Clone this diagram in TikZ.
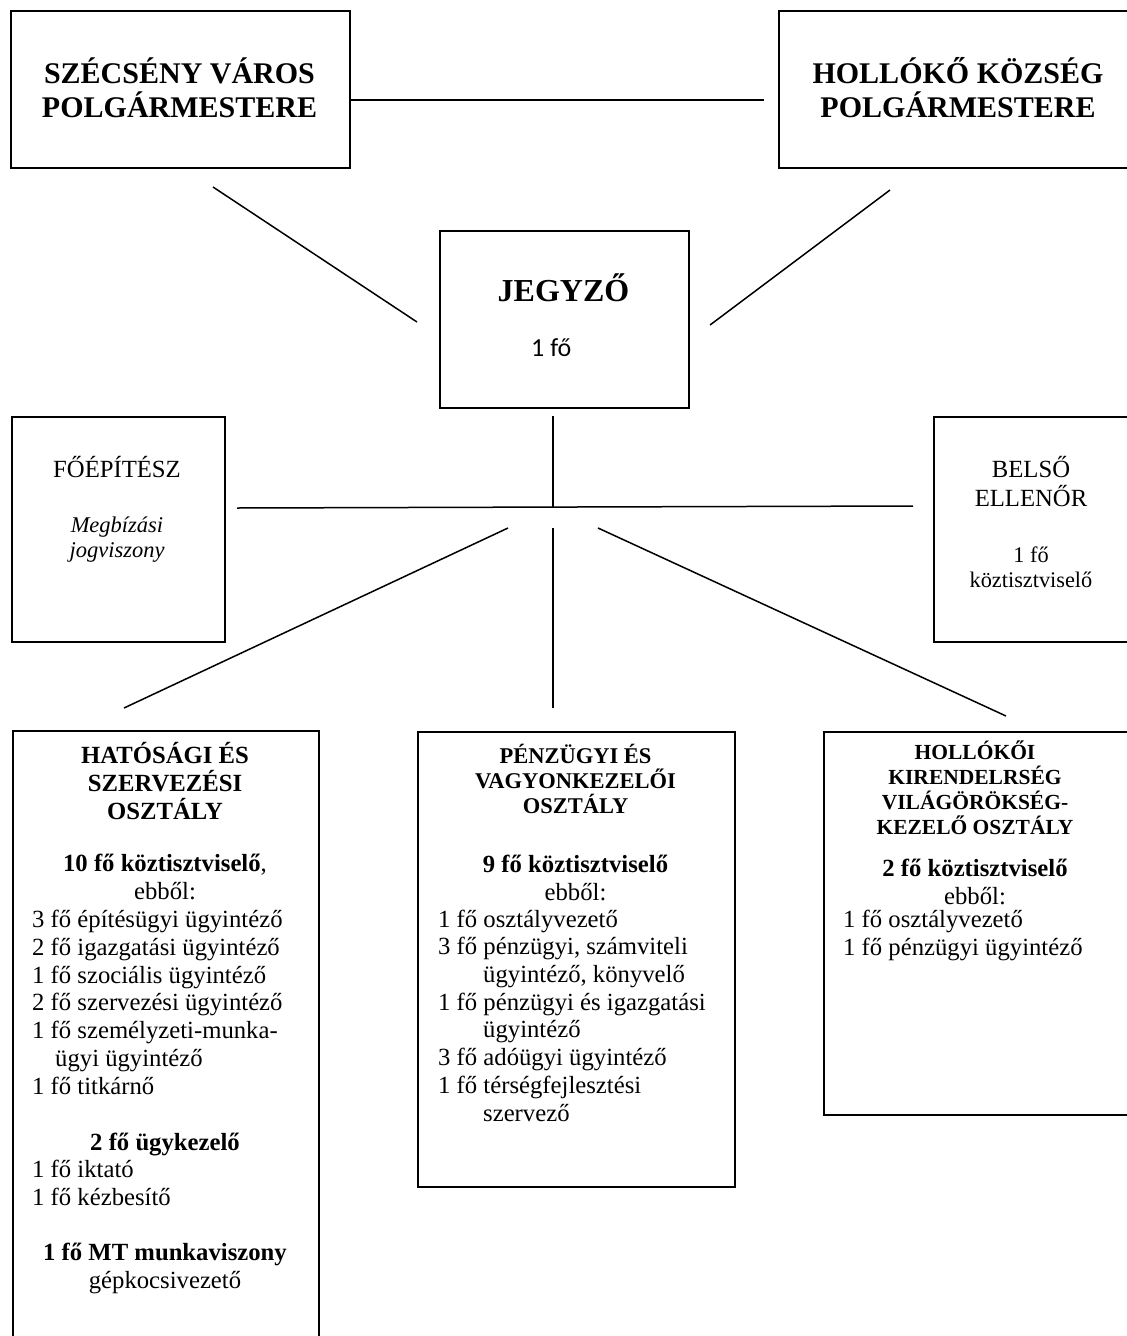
\documentclass[tikz,border=0pt]{standalone}
\usepackage{fontspec}
\setmainfont{Liberation Serif}
\newfontfamily\calibri{Carlito}
\newcommand\setfs[2]{\fontsize{#1pt}{#2pt}\selectfont}

\tikzset{
  box/.style={draw, rectangle, line width=2pt, inner sep=0pt, anchor=north west},
  conn/.style={line width=1.5pt},
  bighead/.style={anchor=base, align=center, inner sep=0pt, font=\bfseries\setfs{30}{34}},
  body/.style={inner sep=0pt, font=\setfs{24.7}{27.7}},
  bodyc/.style={body, anchor=base, align=center},
  bodyl/.style={body, anchor=base west, align=left},
  small/.style={anchor=base, align=center, inner sep=0pt, font=\setfs{22.3}{25}}
}

\begin{document}
\begin{tikzpicture}[x=1pt,y=-1pt]
    \useasboundingbox (0,0) rectangle (1127,1336);
    \clip (0,0) rectangle (1127,1336);

    % polgarmesterek (multi-line nodes sit on their last baseline)
    \node [box, minimum width=339pt, minimum height=157pt] (szecseny) at (10,10) {};
    \node [box, minimum width=351pt, minimum height=157pt] (hollo) at (778,10) {};
    \node [bighead] (szecsenytxt) at (179.5,117) {SZÉCSÉNY VÁROS\\POLGÁRMESTERE};
    \node [bighead] (hollotxt) at (958,117) {HOLLÓKŐ KÖZSÉG\\POLGÁRMESTERE};

    % jegyzo
    \node [box, minimum width=249pt, minimum height=177pt] (jegyzo) at (439,230) {};
    \node [anchor=base, inner sep=0pt, font=\bfseries\setfs{32}{36}] (jegyzotxt) at (563.5,301) {JEGYZŐ};
    \node [anchor=base west, inner sep=0pt, font=\calibri\setfs{26}{30}] (jegyzofo) at (531,356) {1 fő};

    % foepitesz, belso ellenor
    \node [box, minimum width=213pt, minimum height=225pt] (foep) at (11,416) {};
    \node [bodyc] (foeptxt) at (117,477) {FŐÉPÍTÉSZ};
    \node [small, font=\itshape\setfs{22.5}{25}] (foepjog) at (117,557) {Megbízási\\jogviszony};
    \node [box, minimum width=196pt, minimum height=225pt] (belso) at (933,416) {};
    \node [bodyc, font=\setfs{24.7}{29}] (belsotxt) at (1031,506) {BELSŐ\\ELLENŐR};
    \node [small] (belsofo) at (1031,587) {1 fő\\köztisztviselő};

    % osztalyok
    \node [box, minimum width=306pt, minimum height=620pt] (hatosagi) at (12,730) {};
    \node [box, minimum width=317pt, minimum height=455pt] (penzugy) at (417,731) {};
    \node [box, minimum width=306pt, minimum height=383pt] (kiren) at (823,731) {};

    \node [bodyc, font=\bfseries\setfs{24.7}{28}] (hattitle) at (165,819) {HATÓSÁGI ÉS\\SZERVEZÉSI\\OSZTÁLY};
    \node [bodyc] (hatcount) at (165,899) {\textbf{10 fő köztisztviselő},\\ebből:};
    \node [bodyl] (hatlist) at (32,1094) {3 fő építésügyi ügyintéző\\
      2 fő igazgatási ügyintéző\\
      1 fő szociális ügyintéző\\
      2 fő szervezési ügyintéző\\
      1 fő személyzeti-munka-\\
      \hspace*{23pt}ügyi ügyintéző\\
      1 fő titkárnő};
    \node [bodyc] (hatugyk) at (165,1150) {\textbf{2 fő ügykezelő}};
    \node [bodyl] (hatugyklist) at (32,1205) {1 fő iktató\\1 fő kézbesítő};
    \node [bodyc] (hatmt) at (165,1288) {\textbf{1 fő MT munkaviszony}\\gépkocsivezető};

    \node [bodyc, font=\bfseries\setfs{22.5}{25}] (pentitle) at (575.5,813) {PÉNZÜGYI ÉS\\VAGYONKEZELŐI\\OSZTÁLY};
    \node [bodyc] (pencount) at (575.5,900) {\textbf{9 fő köztisztviselő}\\ebből:};
    \node [bodyl] (penlist) at (438,1121) {1 fő osztályvezető\\
      3 fő pénzügyi, számviteli\\
      \hspace*{45pt}ügyintéző, könyvelő\\
      1 fő pénzügyi és igazgatási\\
      \hspace*{45pt}ügyintéző\\
      3 fő adóügyi ügyintéző\\
      1 fő térségfejlesztési\\
      \hspace*{45pt}szervező};

    \node [bodyc, font=\bfseries\setfs{21.5}{25}] (kirtitle) at (975,834) {HOLLÓKŐI\\KIRENDELRSÉG\\VILÁGÖRÖKSÉG-\\KEZELŐ OSZTÁLY};
    \node [bodyc] (kircount) at (975,904) {\textbf{2 fő köztisztviselő}\\ebből:};
    \node [bodyl] (kirlist) at (843,955) {1 fő osztályvezető\\1 fő pénzügyi ügyintéző};

    % vonalak
    \coordinate (szj) at (213,187);
    \coordinate (jsz) at (417,322);
    \coordinate (hoj) at (890,190);
    \coordinate (jho) at (710,325);
    \coordinate (hubtop) at (553,416);
    \coordinate (hub) at (553,507);
    \coordinate (barL) at (237,508);
    \coordinate (barR) at (913,506);
    \coordinate (fanL) at (508,528);
    \coordinate (fanM) at (553,528);
    \coordinate (fanR) at (598,528);
    \coordinate (hatin) at (124,708);
    \coordinate (penin) at (553,708);
    \coordinate (kirin) at (1006,716);

    \draw [conn] ([yshift=-10.5pt]szecseny.east) -- ([xshift=-14pt,yshift=-10.5pt]hollo.west);
    \draw [conn] (szj) -- (jsz);
    \draw [conn] (hoj) -- (jho);
    \draw [conn] (hubtop) -- (hub);
    \draw [conn] (barL) -- (barR);
    \draw [conn] (fanL) -- (hatin);
    \draw [conn] (fanM) -- (penin);
    \draw [conn] (fanR) -- (kirin);

  \end{tikzpicture}
\end{document}
